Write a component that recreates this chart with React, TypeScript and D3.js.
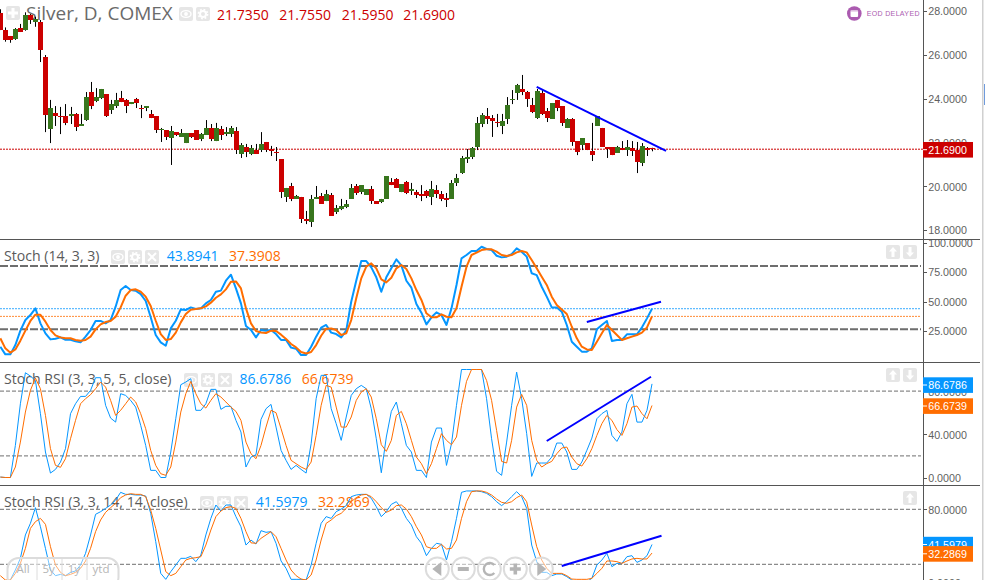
import React from "react";
import * as d3 from "d3";

const symbolLabel = "Silver, D, COMEX";
const ohlcLabels = ["21.7350", "21.7550", "21.5950", "21.6900"];
const lastPrice = 21.69;

// open, high, low, close
const candles: number[][] = [
[27.89,28.08,27.13,27.13],[27.13,27.25,26.60,26.68],[26.86,26.86,26.55,26.68],[26.72,27.22,26.68,27.18],[27.22,27.41,27.04,27.04],
[27.13,27.94,27.10,27.82],[27.82,27.86,27.41,27.59],[27.50,27.74,27.28,27.63],[27.50,27.59,25.67,26.22],[25.90,25.99,22.47,23.25],
[22.61,23.94,21.97,23.57],[23.34,23.66,22.75,23.20],[23.20,23.62,22.38,23.16],[23.20,23.75,22.79,22.89],[23.20,23.62,22.84,23.30],
[23.30,23.34,22.52,22.70],[22.75,23.30,22.75,22.84],[23.02,24.30,22.98,24.07],[24.30,24.76,23.52,23.66],[23.89,24.48,23.84,24.07],
[24.03,24.44,23.98,24.44],[24.21,24.21,23.16,23.20],[23.48,23.94,23.30,23.75],[23.66,24.26,23.57,23.94],[24.03,24.35,23.84,23.84],
[23.94,23.98,23.34,23.66],[23.75,23.84,23.75,23.84],[23.98,24.03,23.57,23.80],[23.57,23.71,23.11,23.52],[23.57,23.66,23.43,23.66],
[23.30,23.48,23.11,23.11],[23.20,23.20,22.43,22.56],[22.56,22.66,22.02,22.61],[22.56,22.56,22.11,22.25],[22.20,22.75,20.97,22.52],
[22.47,22.47,22.29,22.34],[22.25,22.61,22.25,22.43],[21.97,22.43,21.97,22.43],[22.43,22.43,22.20,22.25],[22.56,22.56,22.11,22.11],
[22.16,22.43,22.06,22.38],[22.34,23.02,22.34,22.66],[22.66,22.84,22.06,22.16],[22.06,22.89,22.06,22.66],[22.61,22.75,22.11,22.34],
[22.38,22.70,22.29,22.47],[22.38,22.75,22.25,22.66],[22.52,22.70,21.47,21.65],[21.47,21.97,21.29,21.88],[21.79,21.93,21.33,21.56],
[21.47,21.88,21.42,21.74],[21.65,21.93,21.47,21.47],[21.65,22.47,21.56,21.93],[22.02,22.02,21.56,21.65],[21.70,21.84,21.38,21.61],
[21.56,21.79,21.15,21.52],[21.24,21.24,19.46,19.73],[19.51,19.92,19.28,19.92],[20.01,20.15,19.32,19.42],[19.42,19.60,19.42,19.55],
[19.51,19.51,18.32,18.50],[18.50,18.87,18.27,18.41],[18.36,19.60,18.14,19.42],[19.42,20.01,19.42,19.51],[19.55,19.69,19.19,19.19],
[19.32,19.83,19.32,19.64],[19.60,19.69,18.64,18.64],[18.82,19.14,18.73,19.00],[18.96,19.42,18.91,19.10],[19.05,19.37,19.00,19.19],
[19.42,20.10,19.42,19.92],[20.01,20.10,19.60,19.69],[19.73,20.05,19.64,20.05],[19.60,19.87,19.60,19.87],[19.87,20.01,19.19,19.32],
[19.32,19.32,19.19,19.19],[19.28,19.42,19.23,19.42],[19.42,20.46,19.42,20.46],[20.19,20.37,20.05,20.05],[20.33,20.37,19.92,19.92],
[19.73,20.10,19.73,20.10],[20.19,20.24,19.64,19.69],[19.78,20.15,19.60,19.87],[19.73,19.83,19.46,19.60],[19.64,20.05,19.32,19.55],
[19.78,19.83,19.46,19.55],[19.51,20.24,19.14,19.87],[19.83,20.05,19.46,19.64],[19.64,19.78,19.32,19.42],[19.46,19.69,19.05,19.37],
[19.42,20.28,19.42,20.15],[20.15,20.56,20.01,20.37],[20.60,21.38,20.56,21.29],[21.24,21.70,21.06,21.33],[21.33,21.79,21.24,21.74],
[21.79,23.16,21.65,22.89],[22.84,23.34,22.70,23.25],[23.20,23.57,22.84,23.07],[23.11,23.25,22.25,22.98],[22.93,23.30,22.70,22.89],
[22.75,23.30,22.38,22.98],[23.07,24.07,22.84,23.71],[23.94,24.39,23.75,23.98],[24.26,24.67,23.94,24.62],[24.44,25.08,24.16,24.30],
[24.30,24.35,23.62,23.98],[23.71,24.03,23.34,23.39],[23.11,24.44,23.07,24.35],[24.26,24.39,23.25,23.30],[23.43,23.57,22.93,23.11],
[23.07,23.80,23.07,23.80],[23.94,23.94,23.43,23.57],[23.66,23.66,22.75,22.89],[22.66,23.11,22.66,23.07],[23.07,23.11,21.84,22.02],
[22.06,22.06,21.42,21.56],[21.88,22.20,21.65,22.20],[21.97,21.97,21.65,21.65],[21.61,22.89,21.15,21.42],[22.75,23.20,22.75,23.20],
[22.66,22.66,21.79,21.79],[21.79,21.79,21.29,21.70],[21.79,21.79,21.42,21.42],[21.52,21.84,21.52,21.79],[21.74,22.06,21.65,21.65],
[21.65,22.11,21.38,21.79],[21.74,22.06,21.38,21.61],[21.65,22.02,20.60,21.10],[21.06,21.97,20.92,21.84],[21.74,21.79,21.38,21.65],
[21.735,21.755,21.595,21.69],
];

const stochK = [11.7,5.2,5.2,13.1,25.3,34.3,38.5,44.2,31.5,23,17.9,18.5,19.6,17.6,17.6,16.2,15.4,20.2,25.8,33.5,33.5,31.5,34.3,45.6,59.7,63.1,59.7,59.2,56.3,50.4,36.6,21.6,15.4,12.5,27.2,33.7,43.3,42.8,45,43.6,44.2,48.4,51.3,58.3,59.2,67.6,72.7,61.1,48.4,29.2,25.8,19.6,25.8,25.3,25.8,22.4,17.4,17.4,10.9,10,4.6,4.6,11.7,20.2,27.8,30.1,
23.6,22.4,19.6,25.3,49.8,67.6,84.3,84.3,78.9,70.5,58.3,70.5,78.1,85.7,80.6,67.6,61.7,47.9,40.5,30.6,36.6,40.8,38.5,30.1,44.2,64,86.6,89.4,92.8,92.8,96.4,94.5,93.6,88.8,87.4,88,90.2,95,92.2,88,73.9,72.4,62.5,54.1,45,45,41.4,30.1,15.9,11.7,7.5,7.5,10.3,26.4,30.1,33.5,16.5,17.4,17.4,22.2,22.2,22.2,28.1,35.7,43.89];
const stochD = [18.8,10.3,6.6,9.4,16.8,25.3,33.5,38.8,38.8,32.9,25.8,21.3,19.6,18.8,18.8,17.4,16.8,17.4,20.2,26.4,30.6,32.6,33.5,37.1,45,54.9,59.7,60.3,58.3,54.1,46.2,33.7,22.4,17.4,18.2,23.6,32.3,39.4,43.1,43.6,44.2,45.9,49,53.2,56,60.3,66.8,67,61.1,44.2,31.5,25,23.8,23.3,25.3,25,21.9,18.2,14,11.1,7.2,6,7.2,13.1,21,27,
27.2,25.8,21.6,23,34.3,52.7,69.6,79.5,82.3,78.1,68.8,66.2,70.2,78.1,80.9,77.5,69.6,59.7,51.3,40,36.6,36.6,39.1,37.1,36.6,44.2,62.5,79.5,89.4,91.4,93.6,94.2,94.2,92.2,89.4,88.5,89.4,91.6,92.8,91.6,85.2,78.1,71,64,54.1,47,43.3,39.4,28.6,18.8,11.7,9.4,8.9,15.9,23,30.1,25.8,21.6,17.4,18.8,20.2,21.6,23.6,28.1,37.39];

const rsi5K = [0.4,0,0,29.7,68.3,97,93.9,89.9,59.1,23.6,4.1,7.5,14.3,26.7,59.1,68.3,75.1,75.1,80.7,92.4,92.4,66.8,55,51.3,77.6,76,71.4,65.2,48.3,29.7,6.6,6.6,0,0,23.6,54.4,85.9,88.4,91.5,62.2,62.2,68.3,81.6,81.6,63.1,65.9,65.9,52.9,42.1,9.7,18.9,21.1,53.8,63.7,67.7,46.7,25.1,15.9,7.5,11.2,7.5,4.1,31.3,73,94.6,94.6,
63.7,49.8,34.4,56,76,82.2,85.3,82.2,63.7,35.9,4.4,37.5,61.2,69.9,49.8,29.7,23.6,6.6,6.6,0,32.8,45.8,45.8,11.2,31.3,66.8,100,100,100,100,100,73,35.9,5.7,2,32.8,66.8,97.6,73,40.6,1,13.4,13.4,13.4,18.9,31.9,31.9,23.6,7.5,7.5,14.3,25.1,36.5,54.4,59.1,62.2,39,33.4,42.1,68.3,77,51.3,51.3,62.2,86.68];
const rsi5D = [0.4,0,0,9.7,32.8,60.6,80.7,92.1,82.2,57.5,26.7,11.2,9.4,17.4,35.9,52.9,68.3,73,76.7,82.2,88.4,83.7,71.4,57.5,62.2,68.3,74.5,69.9,59.1,45.2,25.1,11.2,3.5,2,9.7,32.8,60.6,77.6,89,77.6,68.3,64.3,71.4,77.6,74.5,69.9,65.2,61.2,52.9,32.8,22,17.4,29.7,46.7,62.2,60,45.2,29.7,15.9,12.8,9.7,7.5,14.3,39,66.8,85.3,
83.7,65.2,46.7,46.7,56,71.4,79.1,82.2,74.5,54.4,30.4,24.2,34.4,57.5,61.2,49.8,34.4,18.9,12.8,3.5,12.8,26.7,40.6,34.4,30.4,37.5,66.8,89,100,100,100,89.9,71.4,43.6,14.9,13.4,34.4,65.2,77,66.8,34.4,15.9,9.7,12.8,14.9,22,27.3,28.2,18.9,12.8,10.6,17.4,26.7,39,49.8,57.5,52.9,44.3,39,49.8,65.2,66.2,59.1,54.4,66.67];

const rsi14K = [0.3,0.3,2.9,13.8,26.5,52,64.7,81.8,61,37.4,13.8,7.6,9,7.6,11.2,12.7,19.2,32,52,74.5,77.4,81,84.7,90.1,98.5,96.3,96.3,95.6,95.6,94.5,75.6,44.7,10.1,3.6,12,19.2,26.5,26.5,28.7,22.9,30.1,52,70.1,84.7,78.1,84.7,84.7,72,61,41,46.5,42.1,56.7,54.9,55.6,42.9,23.6,15.6,3.6,3.6,3.6,2.9,19.2,42.9,64.7,72,
70.1,77.4,80.3,84,93.8,95.6,96.3,96.3,92,82.9,72,77.4,85.4,88.3,81,70.1,62.9,50.1,42.9,29.4,37.4,42.9,41.8,24.7,44.7,70.1,98.5,100,100,100,99.2,97.4,93.8,88.3,84,88.3,93.8,99.2,93.8,81,41,22.9,11.2,11.2,7.6,9.4,9.4,6.5,2.9,1,0,1,4.7,19.2,24.7,32,17.4,21,21,28.3,29.4,22.1,24.7,29.4,41.6];
const rsi14D = [7.6,2.9,2.9,10.1,21,37.4,59.2,66.5,70.1,63.6,39.2,19.2,11.2,7.6,9,11.2,15.6,23.6,37.4,55.6,68.3,76.7,81.8,86.5,92.7,95.6,97,96.3,96.3,93.8,79.2,59.2,35.6,12,7.6,10.1,17.4,24.7,26.5,27.2,28.3,41,57.4,72,78.1,81.8,82.9,81,70.1,55.6,43.4,42.9,48.3,52,55.6,50.1,37.4,24.7,13.8,7.6,3.9,2.9,8.3,24.7,46.5,64.7,
68.3,73,75.6,81,88.3,92.7,95.6,96.3,93.8,88.3,81.8,76.7,79.2,84,84.7,80.3,72,61,52,39.2,37.4,37.4,41.8,36.7,37.4,46.5,70.1,88.3,99.2,100,100,98.5,95.6,91.2,87.6,86.5,88.3,92.7,95.6,88.3,62.9,39.2,24.7,15.6,10.1,10.1,10.1,7.6,3.9,3.6,3.6,3.6,4.7,10.1,15.6,23.6,23.6,22.9,21,23.6,25.8,26.5,25.8,25.8,32.29];

const priceTicks = [28, 26, 24, 22, 20, 18];
const stochTicks = [100, 75, 50, 25];
const rsiTicks5 = [80, 40, 0];
const rsiTicks14 = [80, 0];
const stochBands = [80, 26.5];
const rsiBands = [80, 20];

// trendlines: [bar index, value]
const priceTrend = [[107, 24.54], [132.8, 21.61]];
const stochTrend = [[117, 32.6], [131.8, 49.8]];
const rsi5Trend = [[109, 33.8], [129.8, 93.3]];
const rsi14Trend = [[112, 18.1], [131.9, 51.2]];

const RED = "#cc0000";
const GREEN = "#38761d";
const BLUE = "#0496ff";
const ORANGE = "#ff6d00";
const TREND = "#0000ff";
const AXIS = "#555555";
const TEXT = "#5f5f5f";
const LEG = "'Open Sans', sans-serif";
const AX = "'Liberation Sans', Arial, sans-serif";
const AXIS_X = 923;

const x = d3.scaleLinear().domain([0, 130]).range([0.33, 652]);
const yPrice = d3.scaleLinear().domain([18, 28]).range([230, 11]);
const yStoch = d3.scaleLinear().domain([25, 75]).range([331, 272]);
const y5 = d3.scaleLinear().domain([0, 80]).range([477.5, 391.1]);
const y14 = d3.scaleLinear().domain([20, 80]).range([564.3, 509.3]);

const fmt = (v: number) => v.toFixed(4);

function series(vals: number[], y: d3.ScaleLinear<number, number>, color: string, w: number) {
  const gen = d3.line<number>().x((_, i) => x(i)).y((d) => y(d));
  return <path d={gen(vals) || ""} fill="none" stroke={color} strokeWidth={w} strokeLinejoin="round" />;
}

function trend(pts: number[][], y: d3.ScaleLinear<number, number>) {
  const gen = d3.line<number[]>().x((d) => x(d[0])).y((d) => y(d[1]));
  return <path d={gen(pts) || ""} fill="none" stroke={TREND} strokeWidth={2} />;
}

function Btn({ bx, by, kind }: { bx: number; by: number; kind: string }) {
  const cx = bx + 7, cy = by + 7;
  return (
    <g>
      <rect x={bx} y={by} width={14} height={14} rx={2} fill="#e6e6e6" />
      {kind === "eye" && (
        <g fill="none" stroke="#fff" strokeWidth={1.4}>
          <ellipse cx={cx} cy={cy} rx={5} ry={3.4} />
          <circle cx={cx} cy={cy} r={1.2} fill="#fff" />
        </g>
      )}
      {kind === "gear" && (
        <g fill="none" stroke="#fff">
          <circle cx={cx} cy={cy} r={3} strokeWidth={2} />
          <circle cx={cx} cy={cy} r={4.6} strokeWidth={1.6} strokeDasharray="1.8 1.8" />
        </g>
      )}
      {kind === "x" && (
        <path d={`M${cx - 4} ${cy - 4}L${cx + 4} ${cy + 4}M${cx + 4} ${cy - 4}L${cx - 4} ${cy + 4}`} stroke="#fff" strokeWidth={2} />
      )}
      {kind === "plus" && (
        <path d={`M${cx - 5} ${cy}H${cx + 5}M${cx} ${cy - 5}V${cy + 5}`} stroke="#fff" strokeWidth={3} />
      )}
      {kind === "up" && (
        <path d={`M${cx} ${cy - 5}L${cx + 4} ${cy - 0.5}H${cx + 1.5}V${cy + 5}H${cx - 1.5}V${cy - 0.5}H${cx - 4}Z`} fill="#fff" />
      )}
      {kind === "down" && (
        <path d={`M${cx} ${cy + 5}L${cx + 4} ${cy + 0.5}H${cx + 1.5}V${cy - 5}H${cx - 1.5}V${cy + 0.5}H${cx - 4}Z`} fill="#fff" />
      )}
    </g>
  );
}

function YTicks({ ticks, y }: { ticks: number[]; y: d3.ScaleLinear<number, number> }) {
  return (
    <g>
      {ticks.map((t) => (
        <g key={t}>
          <line x1={AXIS_X} x2={AXIS_X + 4} y1={Math.round(y(t)) + 0.5} y2={Math.round(y(t)) + 0.5} stroke={AXIS} />
          <text x={AXIS_X + 5.2} y={y(t) + 4.4} fontFamily={AX} fontSize={10.7} fill={TEXT}>{fmt(t)}</text>
        </g>
      ))}
    </g>
  );
}

function Tag({ cy, color, label }: { cy: number; color: string; label: string }) {
  return (
    <g>
      <rect x={AXIS_X} y={cy - 7.7} width={50} height={15.6} fill={color} />
      <line x1={AXIS_X} x2={AXIS_X + 4} y1={cy} y2={cy} stroke="#fff" />
      <text x={AXIS_X + 5.2} y={cy + 4.4} fontFamily={AX} fontSize={10.7} fill="#fff">{label}</text>
    </g>
  );
}

function Dashes({ vals, y, w, dash }: { vals: number[]; y: d3.ScaleLinear<number, number>; w: number; dash: string }) {
  return (
    <g>
      {vals.map((v) => (
        <line key={v} x1={0} x2={AXIS_X - 2} y1={y(v)} y2={y(v)} stroke="#6e6e6e" strokeWidth={w} strokeDasharray={dash} />
      ))}
    </g>
  );
}

function Legend({ label, lx, a, ax, b, bx, base }: { label: string; lx: number; a: string; ax: number; b: string; bx: number; base: number }) {
  return (
    <g fontFamily={LEG}>
      <text x={lx} y={base} fontSize={14.1} fill="#5a5a5a">{label}</text>
      <text x={ax} y={base} fontSize={14} fill={BLUE}>{a}</text>
      <text x={bx} y={base} fontSize={14} fill={ORANGE}>{b}</text>
    </g>
  );
}

const navCenters = [437.3, 463.3, 489.3, 515.3, 541.3];
const rangeLabels = [["All", 23], ["5y", 48.7], ["1y", 74], ["ytd", 101]] as [string, number][];

export default function App() {
  const priceY = yPrice(lastPrice);
  return (
    <svg width={985} height={580} style={{ position: "absolute", left: 0, top: 0, display: "block", background: "#fff" }}>
      <defs>
        <clipPath id="c0"><rect x={0} y={0} width={AXIS_X} height={239} /></clipPath>
        <clipPath id="c1"><rect x={0} y={240} width={AXIS_X} height={122} /></clipPath>
        <clipPath id="c2"><rect x={0} y={363} width={AXIS_X} height={122} /></clipPath>
        <clipPath id="c3"><rect x={0} y={486} width={AXIS_X} height={94} /></clipPath>
        <clipPath id="a1"><rect x={AXIS_X} y={240} width={60} height={122} /></clipPath>
      </defs>

      {/* main legend */}
      <g fontFamily={LEG}>
        <text x={26} y={20} fontSize={19} fill="#6a6a6a">{symbolLabel}</text>
        {ohlcLabels.map((t, i) => (
          <text key={t} x={[217, 279.3, 341.7, 403.3][i]} y={20} fontSize={14} fill={RED}>{t}</text>
        ))}
      </g>
      <Btn bx={6} by={6} kind="plus" />
      <Btn bx={179} by={7} kind="eye" />
      <Btn bx={196} by={7} kind="gear" />

      {/* candles */}
      <g clipPath="url(#c0)">
        <line x1={0} x2={AXIS_X} y1={priceY} y2={priceY} stroke={RED} strokeDasharray="2 1" />
        {candles.map((c, i) => {
          const [o, h, l, cl] = c;
          const cx = Math.round(x(i));
          const col = cl < o ? RED : GREEN;
          const top = Math.round(yPrice(Math.max(o, cl)));
          const bot = Math.round(yPrice(Math.min(o, cl)));
          return (
            <g key={i}>
              <rect x={cx} y={yPrice(h)} width={1} height={yPrice(l) - yPrice(h)} fill="#000" />
              <rect x={cx - 2} y={top} width={5} height={Math.max(1, bot - top)} fill={col} />
            </g>
          );
        })}
        {trend(priceTrend, yPrice)}
      </g>

      {/* stoch */}
      <Legend label="Stoch (14, 3, 3)" lx={4} a="43.8941" ax={166.7} b="37.3908" bx={229} base={261} />
      <Btn bx={111} by={250} kind="eye" />
      <Btn bx={128} by={250} kind="gear" />
      <Btn bx={145} by={250} kind="x" />
      <Btn bx={886} by={245} kind="up" />
      <Btn bx={903} by={245} kind="down" />
      <g clipPath="url(#c1)">
        <Dashes vals={stochBands} y={yStoch} w={2} dash="8 2" />
        <line x1={0} x2={AXIS_X - 2} y1={yStoch(43.89)} y2={yStoch(43.89)} stroke={BLUE} strokeDasharray="2 1" strokeWidth={0.8} />
        <line x1={0} x2={AXIS_X - 2} y1={yStoch(37.39)} y2={yStoch(37.39)} stroke={ORANGE} strokeDasharray="2 1" strokeWidth={0.8} />
        {series(stochK, yStoch, BLUE, 2)}
        {series(stochD, yStoch, ORANGE, 2)}
        {trend(stochTrend, yStoch)}
      </g>

      {/* stoch rsi 5 */}
      <Legend label="Stoch RSI (3, 3, 5, 5, close)" lx={4} a="86.6786" ax={239.6} b="66.6739" bx={301.7} base={384} />
      <Btn bx={184} by={373} kind="eye" />
      <Btn bx={201} by={373} kind="gear" />
      <Btn bx={218} by={373} kind="x" />
      <Btn bx={886} by={368} kind="up" />
      <Btn bx={903} by={368} kind="down" />
      <g clipPath="url(#c2)">
        <Dashes vals={rsiBands} y={y5} w={1} dash="4 2" />
        {series(rsi5K, y5, BLUE, 1)}
        {series(rsi5D, y5, ORANGE, 1)}
        {trend(rsi5Trend, y5)}
      </g>

      {/* stoch rsi 14 */}
      <Legend label="Stoch RSI (3, 3, 14, 14, close)" lx={4} a="41.5979" ax={255.7} b="32.2869" bx={318} base={507} />
      <Btn bx={200} by={496} kind="eye" />
      <Btn bx={217} by={496} kind="gear" />
      <Btn bx={234} by={496} kind="x" />
      <Btn bx={903} by={491} kind="up" />
      <g clipPath="url(#c3)">
        <Dashes vals={rsiBands} y={y14} w={1} dash="4 2" />
        {series(rsi14K, y14, BLUE, 1)}
        {series(rsi14D, y14, ORANGE, 1)}
        {trend(rsi14Trend, y14)}
      </g>

      {/* EOD badge */}
      <circle cx={854.3} cy={13.5} r={7.3} fill="#ab5bb0" />
      <rect x={850.5} y={10} width={7.6} height={7} rx={1} fill="#fff" />
      <rect x={850.5} y={10} width={7.6} height={1.6} fill="#ab5bb0" opacity={0.4} />
      <text x={866.7} y={16.2} fontFamily={AX} fontSize={7} letterSpacing={0.35} fill="#ab5bb0">EOD DELAYED</text>

      {/* range selector */}
      <rect x={7.5} y={558} width={111} height={30} rx={11} fill="#fff" fillOpacity={0.45} stroke="#dcdcdc" strokeWidth={2} />
      {[37, 62, 87].map((s) => (
        <line key={s} x1={s} x2={s} y1={559} y2={580} stroke="#dcdcdc" />
      ))}
      {rangeLabels.map(([t, c]) => (
        <text key={t} x={c} y={573} textAnchor="middle" fontFamily={LEG} fontSize={11.5} fill="#b5b5b5">{t}</text>
      ))}

      {/* navigation buttons */}
      {navCenters.map((c, i) => (
        <g key={c}>
          <circle cx={c} cy={569} r={11.5} fill="#fff" fillOpacity={0.5} stroke="#dcdcdc" strokeWidth={2} />
          {i === 0 && <path d={`M${c + 4} 562V576L${c - 5} 569Z`} fill="#b5b5b5" />}
          {i === 1 && <rect x={c - 5.5} y={567} width={11} height={4} fill="#b5b5b5" />}
          {i === 2 && <path d={`M${c + 5} 565A6 6 0 1 0 ${c + 5} 573`} fill="none" stroke="#b5b5b5" strokeWidth={2.4} />}
          {i === 3 && <path d={`M${c - 5.5} 569H${c + 5.5}M${c} 563.5V574.5`} stroke="#b5b5b5" strokeWidth={3.6} />}
          {i === 4 && <path d={`M${c - 4} 562V576L${c + 5} 569Z`} fill="#b5b5b5" />}
        </g>
      ))}

      {/* axes */}
      <line x1={0} x2={980} y1={239.5} y2={239.5} stroke={AXIS} />
      <line x1={0} x2={980} y1={362.5} y2={362.5} stroke={AXIS} />
      <line x1={0} x2={980} y1={485.5} y2={485.5} stroke={AXIS} />
      <line x1={AXIS_X + 0.5} x2={AXIS_X + 0.5} y1={0} y2={580} stroke={AXIS} />
      <rect x={982} y={0} width={1.5} height={580} fill="#d0d0d0" />
      <rect x={984} y={84} width={1} height={21} fill="#6f9bdc" />

      <YTicks ticks={priceTicks} y={yPrice} />
      <g clipPath="url(#a1)"><YTicks ticks={stochTicks} y={yStoch} /></g>
      <YTicks ticks={rsiTicks5} y={y5} />
      <YTicks ticks={rsiTicks14} y={y14} />

      <Tag cy={priceY + 0.5} color={RED} label="21.6900" />
      <Tag cy={385} color={BLUE} label="86.6786" />
      <Tag cy={406} color={ORANGE} label="66.6739" />
      <Tag cy={544.5} color={BLUE} label="41.5979" />
      <Tag cy={553.8} color={ORANGE} label="32.2869" />
    </svg>
  );
}
